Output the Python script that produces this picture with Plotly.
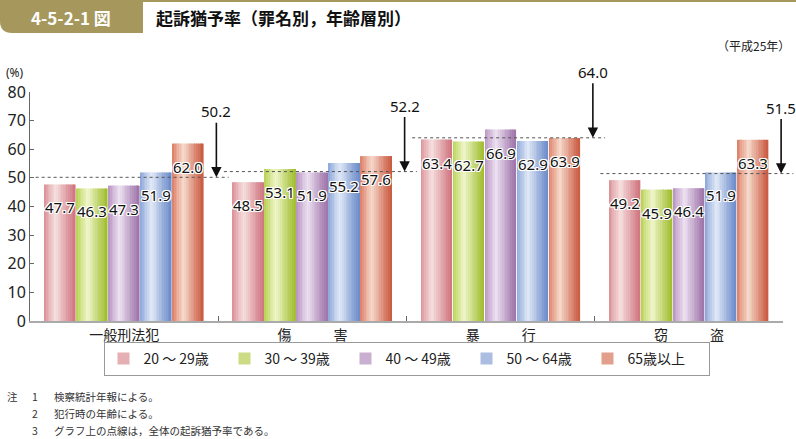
import plotly.graph_objects as go

# ---- data ----
categories = ["一般刑法犯", "傷　　　害", "暴　　　行", "窃　　　盗"]
series_names = ["20 ～ 29歳", "30 ～ 39歳", "40 ～ 49歳", "50 ～ 64歳", "65歳以上"]
age_20_29 = [47.7, 48.5, 63.4, 49.2]
age_30_39 = [46.3, 53.1, 62.7, 45.9]
age_40_49 = [47.3, 51.9, 66.9, 46.4]
age_50_64 = [51.9, 55.2, 62.9, 51.9]
age_65_up = [62.0, 57.6, 63.9, 63.3]
overall = [50.2, 52.2, 64.0, 51.5]
y_ticks = [0, 10, 20, 30, 40, 50, 60, 70, 80]

series_values = [age_20_29, age_30_39, age_40_49, age_50_64, age_65_up]

# gradient stops per series: (left edge, highlight, right edge)
grad = [
    ("#da8b93", "#f6e0e0", "#d0747f"),
    ("#b2cf48", "#f0f6cc", "#9fbd2e"),
    ("#b38cbe", "#ede2f2", "#9d72a8"),
    ("#85a2d8", "#e2eaf7", "#6a8aca"),
    ("#db785f", "#f7dbcd", "#c9583f"),
]

W, H = 796, 439
L, R, T, B = 30, 13, 92, 118
PW, PH = W - L - R, H - T - B


def px2x(px):
    return (px - L) / PW


def py2y(py):
    return (H - B - py) / PH


def hex2rgb(h):
    h = h.lstrip("#")
    return tuple(int(h[i:i + 2], 16) for i in (0, 2, 4))


def mix(c1, c2, t):
    a, b = hex2rgb(c1), hex2rgb(c2)
    return "rgb(%d,%d,%d)" % tuple(round(a[i] + (b[i] - a[i]) * t) for i in range(3))


def grad_color(stops, t, hl=0.38):
    left, mid, right = stops
    if t <= hl:
        return mix(left, mid, (t / hl) ** 0.8)
    return mix(mid, right, ((t - hl) / (1 - hl)) ** 0.9)


fig = go.Figure()

group_frac = 0.85
nser = len(series_values)
bw = group_frac / nser
gap = 0.006
N = 18
for s, vals in enumerate(series_values):
    start = (s - nser / 2) * bw + gap / 2
    inner = bw - gap
    sw = inner / N
    for k in range(N):
        t = (k + 0.5) / N
        fig.add_trace(go.Bar(
            x=categories, y=vals,
            width=sw * 1.02, offset=start + k * sw,
            marker=dict(color=grad_color(grad[s], t), line=dict(width=0)),
            name=series_names[s], legendgroup=series_names[s],
            showlegend=(k == int(N * 0.62)),
            hoverinfo="skip" if k != N // 2 else None,
        ))

annotations = []
shapes = []

# value labels
halo = ("-1px -1px 0 #fff, 1px -1px 0 #fff, -1px 1px 0 #fff, 1px 1px 0 #fff, "
        "0 1px 0 #fff, 0 -1px 0 #fff, 1px 0 0 #fff, -1px 0 0 #fff")
for s, vals in enumerate(series_values):
    for g, v in enumerate(vals):
        xc = g + (s - nser / 2 + 0.5) * bw
        annotations.append(dict(
            x=xc, y=v, xref="x", yref="y", text="%.1f" % v, showarrow=False,
            yshift=-23, font=dict(family="Noto Sans, Open Sans", size=15, color="#111", shadow=halo),
        ))

# overall dashed lines and arrows
for g, v in enumerate(overall):
    x0 = max(g - 0.47, -0.5)
    x1 = g + 0.555
    shapes.append(dict(type="line", xref="paper", yref="y",
                       x0=(x0 + 0.5) / len(categories), x1=(x1 + 0.5) / len(categories),
                       y0=v, y1=v, line=dict(color="#555", width=1, dash="3px,3px")))
    annotations.append(dict(
        x=g + 0.49, y=v, xref="x", yref="y", text="%.1f" % v, showarrow=True,
        ax=0, ay=-66, arrowhead=2, arrowsize=1.3, arrowwidth=1.6, arrowcolor="#111",
        standoff=0, font=dict(family="Noto Sans, Open Sans", size=15, color="#111"),
    ))

# title bar
khaki = "#a6985c"
r = 12
path = "M {x0},{y0} L {x1},{y0} L {x1},{y1} L {x2},{y1} Q {x0},{y1} {x0},{y3} Z".format(
    x0=px2x(0), y0=py2y(0), x1=px2x(143), y1=py2y(33), x2=px2x(r), y3=py2y(33 - r))
shapes.append(dict(type="path", xref="paper", yref="paper", path=path,
                   fillcolor=khaki, line=dict(width=0), layer="below"))
shapes.append(dict(type="line", xref="paper", yref="paper",
                   x0=px2x(143), x1=px2x(796), y0=py2y(1), y1=py2y(1),
                   line=dict(color=khaki, width=2)))

annotations.append(dict(xref="paper", yref="paper", x=px2x(71), y=py2y(17),
                        text="<b>4-5-2-1 図</b>", showarrow=False, xanchor="center", yanchor="middle",
                        font=dict(family="Noto Sans CJK JP", size=17, color="#ffffff")))
annotations.append(dict(xref="paper", yref="paper", x=px2x(154), y=py2y(17),
                        text="<b>起訴猶予率（罪名別，年齢層別）</b>", showarrow=False,
                        xanchor="left", yanchor="middle",
                        font=dict(family="Noto Sans CJK JP", size=17, color="#111")))
annotations.append(dict(xref="paper", yref="paper", x=px2x(792), y=py2y(45),
                        text="（平成25年）", showarrow=False, xanchor="right", yanchor="middle",
                        font=dict(family="Noto Sans CJK JP", size=12, color="#222")))
annotations.append(dict(xref="paper", yref="paper", x=px2x(4), y=py2y(72),
                        text="(%)", showarrow=False, xanchor="left", yanchor="middle",
                        font=dict(family="Noto Sans, Open Sans", size=12, color="#222")))

# notes
notes = [("注", "1", "検察統計年報による。", 396),
         ("", "2", "犯行時の年齢による。", 413),
         ("", "3", "グラフ上の点線は，全体の起訴猶予率である。", 430)]
for head, num, txt, py in notes:
    nf = dict(family="Noto Sans CJK JP", size=10.5, color="#333")
    if head:
        annotations.append(dict(xref="paper", yref="paper", x=px2x(5), y=py2y(py), text=head,
                                showarrow=False, xanchor="left", yanchor="middle", font=nf))
    annotations.append(dict(xref="paper", yref="paper", x=px2x(30), y=py2y(py), text=num,
                            showarrow=False, xanchor="left", yanchor="middle", font=nf))
    annotations.append(dict(xref="paper", yref="paper", x=px2x(52), y=py2y(py), text=txt,
                            showarrow=False, xanchor="left", yanchor="middle", font=nf))

fig.update_layout(
    width=W, height=H, autosize=False,
    margin=dict(l=L, r=R, t=T, b=B, pad=0),
    paper_bgcolor="white", plot_bgcolor="white",
    barmode="overlay",
    showlegend=True,
    legend=dict(orientation="h", x=0.5, xanchor="center", y=py2y(342), yanchor="top",
                bordercolor="#999", borderwidth=1, entrywidth=76,
                font=dict(family="Noto Sans CJK JP", size=14, color="#222"),
                itemclick=False, itemdoubleclick=False),
    xaxis=dict(type="category", range=[-0.5, len(categories) - 0.5], automargin=False,
               showline=True, linecolor="#aaa", linewidth=2,
               ticks="inside", tickson="boundaries", ticklen=5, tickcolor="#666",
               tickfont=dict(family="Noto Sans CJK JP", size=14, color="#222"),
               showgrid=False, zeroline=False, fixedrange=True),
    yaxis=dict(range=[0, 80], tickvals=y_ticks, showline=True, linecolor="#666", linewidth=1,
               automargin=False,
               ticks="inside", ticklen=4, tickcolor="#666",
               tickfont=dict(family="Noto Sans, Open Sans", size=16, color="#222"),
               showgrid=False, zeroline=False, fixedrange=True),
    annotations=annotations,
    shapes=shapes,
)

fig.write_html("out.html", config={"displayModeBar": False},
               post_script="document.body.style.margin='0';document.body.style.padding='0';")
